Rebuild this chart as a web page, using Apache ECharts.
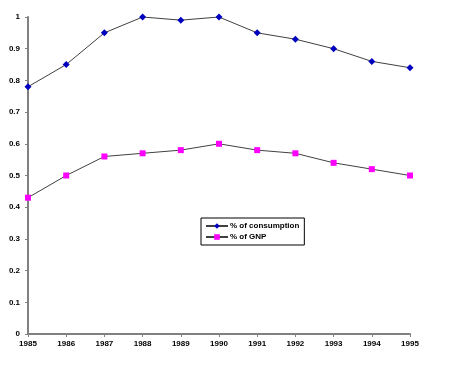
<!DOCTYPE html>
<html><head><meta charset="utf-8">
<script src="https://cdn.jsdelivr.net/npm/echarts@6/dist/echarts.min.js"></script>
<style>html,body{margin:0;padding:0;background:#fff}#c{width:450px;height:365px}</style>
</head><body><div id="c"></div>
<script>
var years = ['1985','1986','1987','1988','1989','1990','1991','1992','1993','1994','1995'];
var consumption = [0.78, 0.85, 0.95, 1.0, 0.99, 1.0, 0.95, 0.93, 0.90, 0.86, 0.84];
var gnp = [0.43, 0.50, 0.56, 0.57, 0.58, 0.60, 0.58, 0.57, 0.54, 0.52, 0.50];
var yTicks = [0, 0.1, 0.2, 0.3, 0.4, 0.5, 0.6, 0.7, 0.8, 0.9, 1];

var font = {fontFamily: 'Liberation Sans', fontWeight: 'bold', fontSize: 8, color: '#000'};
var chart = echarts.init(document.getElementById('c'));
chart.setOption({
  animation: false,
  grid: {left: 28, right: 40, top: 17, bottom: 31, containLabel: false},
  legend: {
    orient: 'vertical', left: 201, top: 218,
    backgroundColor: '#fff', borderColor: '#000', borderWidth: 1,
    padding: [4, 5, 4, 4], itemGap: 3, itemWidth: 22, itemHeight: 7,
    textStyle: Object.assign({}, font, {padding: [0, 0, 0, -3]}),
    data: ['% of consumption', '% of GNP']
  },
  xAxis: {
    type: 'category', data: years, boundaryGap: false,
    axisLine: {lineStyle: {color: '#808080', width: 2}},
    axisTick: {show: true, inside: false, length: 3, lineStyle: {color: '#808080'}},
    axisLabel: Object.assign({}, font, {margin: 6}),
    splitLine: {show: false}
  },
  yAxis: {
    type: 'value', min: 0, max: 1, interval: 0.1,
    axisLine: {show: true, lineStyle: {color: '#808080', width: 2}},
    axisTick: {show: true, length: 3, lineStyle: {color: '#808080'}},
    axisLabel: Object.assign({}, font, {margin: 8, formatter: function (v) { return String(Math.round(v * 10) / 10); }}),
    splitLine: {show: false}
  },
  series: [
    {name: '% of consumption', type: 'line', data: consumption, symbol: 'diamond', symbolSize: 7,
     lineStyle: {color: '#404040', width: 1}, itemStyle: {color: '#0000c0'}},
    {name: '% of GNP', type: 'line', data: gnp, symbol: 'rect', symbolSize: 6,
     lineStyle: {color: '#404040', width: 1}, itemStyle: {color: '#ff00ff'}}
  ]
});
</script></body></html>
